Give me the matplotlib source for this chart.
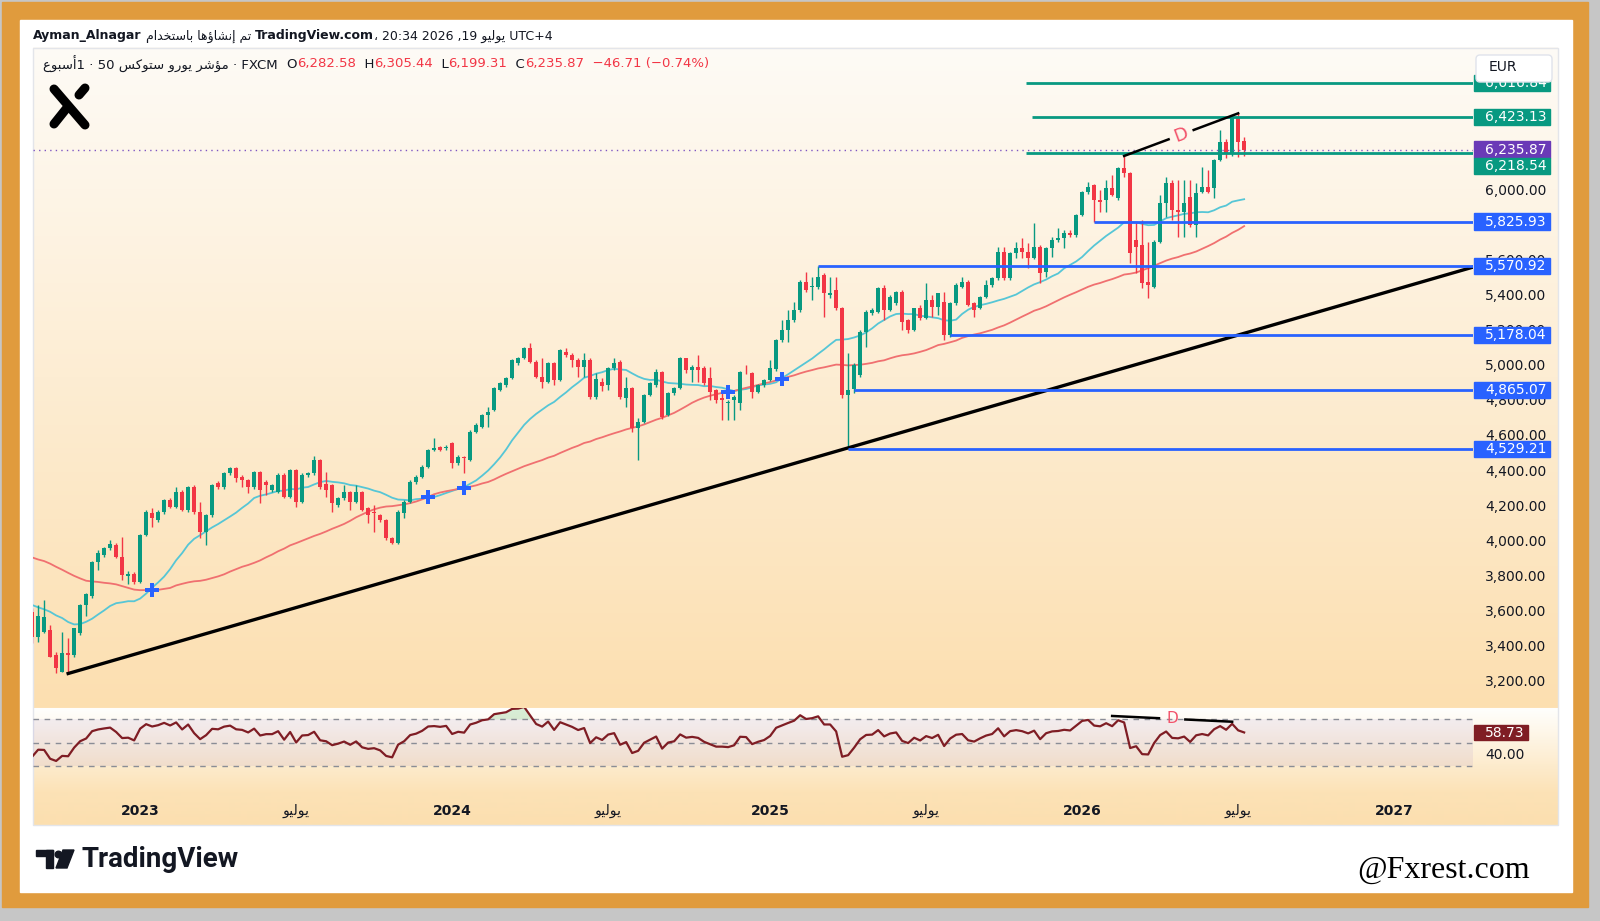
import numpy as np
import pandas as pd
import matplotlib
matplotlib.use("Agg")
import matplotlib.pyplot as plt
import matplotlib.dates as mdates
import matplotlib.transforms as mtransforms
from matplotlib.patches import Rectangle, FancyBboxPatch, Polygon, Circle

# # # # # # # # # # # # #    DATA    # # # # # # # # # # # # #

# weekly candles, first one is the week of 2022-08-29
first_week = "2022-08-29"
week_open = [
    3600, 3455, 3487, 3497, 3354, 3259, 3363, 3354, 3478, 3640,
    3690, 3886, 3925, 3962, 3981, 3915, 3805, 3815, 3772, 4038,
    4165, 4124, 4171, 4238, 4200, 4285, 4181, 4314, 4171, 4057,
    4152, 4333, 4314, 4390, 4418, 4371, 4352, 4314, 4399, 4342,
    4295, 4285, 4380, 4257, 4409, 4228, 4380, 4390, 4466, 4330,
    4323, 4209, 4247, 4285, 4228, 4285, 4190, 4171, 4152, 4124,
    4019, 3991, 4162, 4228, 4342, 4371, 4428, 4523, 4538, 4532,
    4561, 4447, 4485, 4466, 4627, 4656, 4722, 4751, 4865, 4894,
    4932, 5017, 5046, 5103, 5027, 4941, 4913, 5017, 4922, 5084,
    5065, 5036, 4998, 5036, 4827, 4913, 4894, 4989, 5027, 4818,
    4875, 4647, 4685, 4837, 4894, 4970, 4722, 4846, 4875, 5046,
    4979, 4998, 4989, 4932, 4865, 4818, 4789, 4808, 4789, 4970,
    4960, 4856, 4894, 4922, 4985, 5150, 5207, 5264, 5321, 5483,
    5454, 5454, 5521, 5406, 5435, 5331, 4837, 4870, 4951, 5198,
    5302, 5312, 5445, 5321, 5359, 5426, 5264, 5207, 5331, 5274,
    5378, 5340, 5369, 5178.04, 5359, 5454, 5483, 5359, 5331, 5397,
    5464, 5502, 5654, 5502, 5644, 5673, 5654, 5616, 5682, 5540,
    5673, 5720, 5730, 5759, 5749, 5863, 5996, 6034, 5949, 5949,
    6015, 5958, 6129, 6101, 5720, 5692, 5483, 5454, 5711, 5930,
    6044, 5892, 5882, 5968, 5806, 5996, 6025, 6015, 6177, 6281,
    6210, 6414, 6282.58,
]
week_high = [
    3620, 3640, 3668, 3525, 3370, 3487, 3449, 3510, 3645, 3710,
    3890, 3953, 3970, 4010, 3995, 4029, 3830, 3825, 4045, 4180,
    4190, 4180, 4245, 4250, 4314, 4295, 4320, 4325, 4228, 4160,
    4330, 4345, 4395, 4425, 4425, 4380, 4360, 4405, 4405, 4350,
    4330, 4390, 4390, 4415, 4415, 4390, 4400, 4490, 4470, 4400,
    4330, 4255, 4323, 4290, 4323, 4290, 4200, 4209, 4160, 4130,
    4025, 4180, 4235, 4350, 4380, 4435, 4530, 4589, 4545, 4550,
    4570, 4495, 4490, 4635, 4675, 4730, 4770, 4880, 4910, 4940,
    5040, 5055, 5110, 5135, 5035, 5046, 5025, 5025, 5100, 5103,
    5075, 5045, 5074, 5045, 4960, 4935, 4995, 5046, 5035, 4941,
    4885, 4703, 4845, 4910, 4985, 4975, 4855, 4885, 5055, 5050,
    5010, 5065, 5000, 4998, 4870, 4865, 4810, 4835, 4975, 5008,
    4965, 4900, 4930, 5036, 5155, 5264, 5321, 5369, 5490, 5540,
    5512, 5570.92, 5530, 5511, 5511, 5340, 5074, 5020, 5205, 5320,
    5335, 5450, 5464, 5405, 5430, 5435, 5270, 5335, 5350, 5473,
    5407, 5420, 5426, 5365, 5473, 5511, 5490, 5365, 5400, 5492,
    5511, 5682, 5682, 5650, 5711, 5730, 5701, 5815, 5690, 5680,
    5740, 5787, 5778, 5778, 5870, 6000, 6053, 6040, 6006, 6063,
    6091, 6139, 6200, 6110, 5825, 5835, 5711, 5720, 5977, 6082,
    6063, 6063, 6063, 6063, 6044, 6139, 6120, 6185, 6347, 6295,
    6423.13, 6443, 6305.44,
]
week_low = [
    3420, 3430, 3480, 3340, 3250, 3255, 3248, 3340, 3468, 3575,
    3680, 3838, 3910, 3950, 3905, 3782, 3760, 3760, 3765, 4030,
    4086, 4110, 4160, 4190, 4190, 4175, 4170, 4160, 4019, 3981,
    4140, 4300, 4300, 4380, 4340, 4314, 4276, 4300, 4219, 4266,
    4285, 4280, 4250, 4250, 4200, 4220, 4370, 4380, 4300, 4257,
    4171, 4200, 4240, 4181, 4220, 4175, 4105, 4057, 4110, 4010,
    3985, 3985, 4133, 4220, 4330, 4365, 4420, 4515, 4515, 4520,
    4418, 4440, 4390, 4460, 4620, 4650, 4656, 4745, 4860, 4885,
    4925, 5010, 5040, 5020, 4935, 4875, 4905, 4894, 4915, 5055,
    4998, 4941, 4941, 4812, 4815, 4860, 4865, 4980, 4815, 4770,
    4627, 4466, 4675, 4830, 4885, 4700, 4715, 4835, 4870, 4960,
    4913, 4913, 4895, 4808, 4789, 4694, 4694, 4694, 4751, 4955,
    4818, 4850, 4885, 4915, 4975, 5140, 5140, 5255, 5312, 5426,
    5378, 5440, 5283, 5388, 5320, 4820, 4529.21, 4850, 4940, 5112,
    5290, 5305, 5264, 5315, 5350, 5207, 5188, 5200, 5265, 5268,
    5283, 5293, 5150, 5170, 5350, 5445, 5345, 5283, 5325, 5390,
    5455, 5495, 5492, 5495, 5616, 5616, 5559, 5610, 5473, 5511,
    5625, 5712, 5673, 5740, 5740, 5855, 5985, 5825.93, 5882, 5882,
    5970, 5949, 6082, 5587, 5530, 5445, 5388, 5445, 5705, 5854,
    5835, 5740, 5740, 5797, 5740, 5987, 5987, 5958, 6170, 6190,
    6200, 6192, 6199.31,
]
week_close = [
    3455, 3577, 3572, 3345, 3278, 3363, 3354, 3506, 3639, 3700,
    3886, 3934, 3962, 3985, 3915, 3810, 3818, 3772, 4038, 4171,
    4133, 4171, 4238, 4200, 4285, 4181, 4314, 4171, 4057, 4152,
    4323, 4314, 4390, 4418, 4361, 4352, 4314, 4399, 4295, 4323,
    4323, 4380, 4257, 4409, 4228, 4380, 4390, 4466, 4314, 4295,
    4219, 4247, 4285, 4228, 4285, 4181, 4152, 4162, 4124, 4019,
    3991, 4171, 4228, 4342, 4371, 4428, 4523, 4532, 4523, 4542,
    4447, 4485, 4475, 4627, 4665, 4722, 4742, 4875, 4903, 4932,
    5036, 5046, 5103, 5027, 4941, 4913, 5017, 4922, 5093, 5065,
    5036, 4998, 5036, 4827, 4930, 4888, 4989, 5017, 4827, 4875,
    4647, 4685, 4837, 4903, 4970, 4713, 4846, 4875, 5046, 4979,
    4998, 4979, 4903, 4856, 4808, 4808, 4799, 4827, 4970, 4965,
    4856, 4894, 4922, 4989, 5150, 5207, 5264, 5321, 5480, 5435,
    5458, 5511, 5416, 5416, 5331, 4837, 4865.07, 5008, 5198, 5312,
    5321, 5445, 5321, 5397, 5426, 5255, 5207, 5331, 5274, 5378,
    5340, 5416, 5178.04, 5359, 5464, 5483, 5350, 5321, 5397, 5464,
    5502, 5654, 5502, 5644, 5673, 5654, 5616, 5682, 5530, 5673,
    5720, 5730, 5759, 5749, 5863, 5996, 6025, 5949, 5939, 6015,
    5977, 6129, 6101, 5644, 5682, 5473, 5464, 5711, 5930, 6044,
    5892, 5882, 5930, 5806, 5987, 6025, 5996, 6177, 6281, 6210,
    6414, 6281, 6235.87,
]
# closes before the visible window, only used to warm up the averages / RSI
history_close = [
    4170, 4130, 4160, 4030, 4080, 4180, 4190, 4250, 4360, 4370,
    4360, 4090, 4080, 4200, 4160, 4190, 4300, 4320, 4270, 4200,
    4140, 4110, 4130, 3970, 3930, 3560, 3730, 3900, 3870, 3920,
    3830, 3850, 3840, 3800, 3630, 3690, 3660, 3810, 3780, 3600,
    3440, 3530, 3450, 3500, 3480, 3600, 3710, 3690, 3780, 3730,
    3600,
]

# drawings on the chart
green_levels = [6616.84, 6423.13, 6218.54]
green_starts = ["2025-10-31", "2025-11-08", "2025-10-31"]
blue_levels = [5825.93, 5570.92, 5178.04, 4865.07, 4529.21]
blue_starts = ["2026-01-19", "2025-03-03", "2025-08-04", "2025-04-14", "2025-04-07"]
last_price = 6235.87
trend_points = [("2022-10-10", 3248), ("2027-04-06", 5566)]
price_div = [("2026-02-23", 6200), ("2026-07-06", 6443)]
rsi_div = [("2026-02-09", 72.9), ("2026-06-29", 68.0)]
cross_weeks = ["2023-01-16", "2023-12-04", "2024-01-15", "2024-11-18", "2025-01-20"]
rsi_last = 58.73

# 5,800 / 6,200 / 6,400 / 6,600 sit fully under the level tags, so they are not shown
price_ticks = [3200, 3400, 3600, 3800, 4000, 4200, 4400, 4600, 4800, 5000, 5200, 5400, 5600, 6000]
time_ticks = ["2023-01-02", "2023-07-03", "2024-01-01", "2024-07-01", "2025-01-06",
              "2025-07-07", "2026-01-05", "2026-07-06", "2027-01-04"]
time_labels = ["2023", "يوليو", "2024", "يوليو", "2025", "يوليو", "2026", "يوليو", "2027"]

# # # # # # # # # # # #   ARABIC TEXT HELPER   # # # # # # # # # # # #
# matplotlib does no shaping, so pick the joined glyph forms and reverse
AR_FORMS = {
    "ا": ("\uFE8D", "\uFE8E", None, None), "أ": ("\uFE83", "\uFE84", None, None),
    "إ": ("\uFE87", "\uFE88", None, None), "ؤ": ("\uFE85", "\uFE86", None, None),
    "د": ("\uFEA9", "\uFEAA", None, None), "ر": ("\uFEAD", "\uFEAE", None, None),
    "و": ("\uFEED", "\uFEEE", None, None),
    "ب": ("\uFE8F", "\uFE90", "\uFE91", "\uFE92"), "ت": ("\uFE95", "\uFE96", "\uFE97", "\uFE98"),
    "خ": ("\uFEA5", "\uFEA6", "\uFEA7", "\uFEA8"), "س": ("\uFEB1", "\uFEB2", "\uFEB3", "\uFEB4"),
    "ش": ("\uFEB5", "\uFEB6", "\uFEB7", "\uFEB8"), "ع": ("\uFEC9", "\uFECA", "\uFECB", "\uFECC"),
    "ك": ("\uFED9", "\uFEDA", "\uFEDB", "\uFEDC"), "ل": ("\uFEDD", "\uFEDE", "\uFEDF", "\uFEE0"),
    "م": ("\uFEE1", "\uFEE2", "\uFEE3", "\uFEE4"), "ن": ("\uFEE5", "\uFEE6", "\uFEE7", "\uFEE8"),
    "ه": ("\uFEE9", "\uFEEA", "\uFEEB", "\uFEEC"), "ي": ("\uFEF1", "\uFEF2", "\uFEF3", "\uFEF4"),
}


def ar(text):
    out = []
    for i, ch in enumerate(text):
        if ch not in AR_FORMS:
            out.append(ch)
            continue
        isol, fin, ini, med = AR_FORMS[ch]
        prev = text[i - 1] if i > 0 else ""
        nxt = text[i + 1] if i + 1 < len(text) else ""
        join_prev = prev in AR_FORMS and AR_FORMS[prev][2] is not None
        join_next = ini is not None and nxt in AR_FORMS
        if join_prev and join_next:
            out.append(med)
        elif join_prev:
            out.append(fin)
        elif join_next:
            out.append(ini)
        else:
            out.append(isol)
    return "".join(reversed(out))


# # # # # # # # # # # #   INDICATORS   # # # # # # # # # # # #
dates = pd.date_range(first_week, periods=len(week_close), freq="W-MON")
hist_dates = pd.date_range(end=dates[0] - pd.Timedelta(days=7), periods=len(history_close), freq="W-MON")
all_close = pd.Series(history_close + week_close, index=hist_dates.append(dates))
sma20 = all_close.rolling(20).mean()
sma50 = all_close.rolling(50).mean()
delta = all_close.diff()
gain = delta.clip(lower=0).ewm(alpha=1 / 14, adjust=False).mean()
loss = (-delta.clip(upper=0)).ewm(alpha=1 / 14, adjust=False).mean()
rsi = 100 - 100 / (1 + gain / loss)

xd = mdates.date2num(dates)
xall = mdates.date2num(all_close.index)
o = np.array(week_open)
h = np.array(week_high)
l = np.array(week_low)
c = np.array(week_close)
up = c >= o

# # # # # # # # # # # #   FIGURE   # # # # # # # # # # # #
W, H = 1600, 921
GREEN, RED, BLUE, TXT = "#089981", "#F23645", "#2962FF", "#131722"
plt.rcParams["font.family"] = ["DejaVu Sans"]

fig = plt.figure(figsize=(16, 9.21), dpi=100, facecolor="white")


def rect(x0, y0, x1, y1):
    return [x0 / W, 1 - y1 / H, (x1 - x0) / W, (y1 - y0) / H]


bg = fig.add_axes([0, 0, 1, 1])
bg.axis("off")
bg.add_patch(Rectangle((0, 0), W, H, color="#C6C6C6"))
bg.add_patch(Rectangle((2, 2), 1586, 905, color="#E09B3D"))
bg.add_patch(Rectangle((20, 20), 1552, 872, color="white"))
stops_y = [48, 707, 708, 792, 825]
stops_c = [(254, 251, 246), (252, 223, 176), (255, 255, 253), (252, 226, 182), (252, 223, 175)]
ys = np.arange(48, 825)
grad = np.stack([np.interp(ys, stops_y, [s[k] for s in stops_c]) for k in range(3)], axis=-1) / 255
bg.imshow(grad[:, None, :], extent=(33, 1558, 825, 48), aspect="auto", zorder=2)
bg.add_patch(Rectangle((33, 48), 1525, 777, fill=False, ec="#E3E5EA", lw=1, zorder=3))
bg.set_xlim(0, W)
bg.set_ylim(H, 0)

x_left = mdates.date2num(pd.Timestamp("2022-08-30"))
x_right = mdates.date2num(pd.Timestamp("2027-04-06"))

# ---- price pane ----
ax = fig.add_axes(rect(33, 49, 1473, 707))
ax.patch.set_alpha(0)
for s in ax.spines.values():
    s.set_visible(False)
ax.set_xticks([])
ax.set_yticks([])
ax.set_xlim(x_left, x_right)
ax.set_ylim(3057, 6810)

ax.vlines(xd, l, h, colors=np.where(up, GREEN, RED), lw=1, zorder=3)
ax.bar(xd, np.maximum(np.abs(c - o), 4), bottom=np.minimum(o, c), width=4.4,
       color=np.where(up, GREEN, RED), lw=0, zorder=4)

ax.plot(xall, sma20.values, color="#56C6D6", lw=1.3, zorder=2)
ax.plot(xall, sma50.values, color="#F07070", lw=1.3, zorder=2)

cx = mdates.date2num(pd.to_datetime(cross_weeks))
ax.plot(cx, sma50.loc[pd.to_datetime(cross_weeks)].values, "P", color=BLUE, ms=10, mew=0, zorder=6)

ax.plot(mdates.date2num(pd.to_datetime([p[0] for p in trend_points])), [p[1] for p in trend_points],
        color="black", lw=2.4, zorder=5)

for lvl, st in zip(green_levels, green_starts):
    ax.hlines(lvl, mdates.date2num(pd.Timestamp(st)), x_right, color=GREEN, lw=2, zorder=5)
for lvl, st in zip(blue_levels, blue_starts):
    ax.hlines(lvl, mdates.date2num(pd.Timestamp(st)), x_right, color=BLUE, lw=2, zorder=5)
ax.hlines(last_price, x_left, x_right, color="#7E57C2", lw=1, linestyles=(0, (1, 3)), zorder=5)


def divergence(axis, pts, size, rotate):
    x0, y0 = mdates.date2num(pd.Timestamp(pts[0][0])), pts[0][1]
    x1, y1 = mdates.date2num(pd.Timestamp(pts[1][0])), pts[1][1]
    for a, b in [(0, 0.39), (0.61, 1)]:
        axis.plot([x0 + a * (x1 - x0), x0 + b * (x1 - x0)], [y0 + a * (y1 - y0), y0 + b * (y1 - y0)],
                  color="black", lw=1.8, zorder=6)
    p0 = axis.transData.transform((x0, y0))
    p1 = axis.transData.transform((x1, y1))
    ang = np.degrees(np.arctan2(p1[1] - p0[1], p1[0] - p0[0])) if rotate else 0
    axis.text((x0 + x1) / 2, (y0 + y1) / 2, "D", color="#F2536A", fontsize=size, rotation=ang,
              rotation_mode="anchor", ha="center", va="center", zorder=7)


divergence(ax, price_div, 13, True)

# price scale
ytr = mtransforms.blended_transform_factory(ax.transAxes, ax.transData)
for t in price_ticks:
    ax.text(1.0083, t, f"{t:,.2f}", transform=ytr, fontsize=10, color=TXT,
            va="center", ha="left", clip_on=False, zorder=3)

units_per_px = (6810 - 3057) / ax.get_window_extent().height
box_h = 16.5 * units_per_px
labels = [(v, GREEN) for v in green_levels] + [(v, BLUE) for v in blue_levels] + [(last_price, "#6A3AB7")]
labels.sort(key=lambda t: -t[0])
prev = None
for v, col in labels:
    pos = v if prev is None or prev - v >= box_h else prev - box_h
    prev = pos
    ax.add_patch(Rectangle((1.001, pos - box_h / 2), 0.0525, box_h, transform=ytr, color=col,
                           clip_on=False, zorder=8))
    ax.text(1.0083, pos, f"{v:,.2f}", transform=ytr, fontsize=10, color="white",
            va="center", ha="left", clip_on=False, zorder=9)

# ---- RSI pane ----
ar_ax = fig.add_axes(rect(33, 708, 1473, 797))
ar_ax.patch.set_alpha(0)
for s in ar_ax.spines.values():
    s.set_visible(False)
ar_ax.set_xticks([])
ar_ax.set_yticks([])
ar_ax.set_xlim(x_left, x_right)
ar_ax.set_ylim(3.8, 79.7)
ar_ax.axhspan(30, 70, color="#7E57C2", alpha=0.09, lw=0)
for lv in (70, 50, 30):
    ar_ax.axhline(lv, color="#8A8D96", lw=1, ls=(0, (4, 4)))
rv = rsi.values
ar_ax.fill_between(xall, 70, rv, where=rv > 70, interpolate=True, color="#66BB6A", alpha=0.25, lw=0)
ar_ax.plot(xall, rv, color="#7F1D24", lw=1.6, zorder=4)
divergence(ar_ax, rsi_div, 11, False)

rtr = mtransforms.blended_transform_factory(ar_ax.transAxes, ar_ax.transData)
rpx = 76 / ar_ax.get_window_extent().height
ar_ax.add_patch(Rectangle((1.001, rsi_last - 7.8 * rpx), 0.0375, 15.6 * rpx, transform=rtr,
                          color="#7F1D24", clip_on=False, zorder=8))
ar_ax.text(1.0083, rsi_last, f"{rsi_last:.2f}", transform=rtr, fontsize=10, color="white",
           va="center", ha="left", clip_on=False, zorder=9)
ar_ax.text(1.0083, 40, "40.00", transform=rtr, fontsize=10, color=TXT, va="center", ha="left",
           clip_on=False)

# ---- overlay: texts, logos ----
fg = fig.add_axes([0, 0, 1, 1])
fg.patch.set_alpha(0)
fg.axis("off")
fg.set_xlim(0, W)
fg.set_ylim(H, 0)

ttr = mtransforms.blended_transform_factory(ar_ax.transData, fg.transData)
for d, lab in zip(time_ticks, time_labels):
    is_year = lab.isdigit()
    fg.text(mdates.date2num(pd.Timestamp(d)), 811, lab if is_year else ar(lab), transform=ttr,
            fontsize=10, color=TXT, fontweight="bold" if is_year else "normal", ha="center", va="center")

fg.add_patch(FancyBboxPatch((1476, 55), 76, 27, boxstyle="round,pad=0,rounding_size=4",
                            fc="white", ec="#E0E3EB", lw=1, zorder=5))
fg.text(1489, 67, "EUR", fontsize=10, color=TXT, va="center", ha="left", zorder=6)

renderer = fig.canvas.get_renderer()


def text_row(x, y, pieces, size):
    for s, col, wt in pieces:
        t = fg.text(x, y, s, fontsize=size, color=col, fontweight=wt, va="center", ha="left")
        x += t.get_window_extent(renderer=renderer).width


text_row(33, 36, [
    ("Ayman_Alnagar", TXT, "bold"),
    (" " + ar("تم إنشاؤها باستخدام") + " ", TXT, "normal"),
    ("TradingView.com", TXT, "bold"),
    ("، 20:34 2026 ,19 " + ar("يوليو") + " UTC+4", TXT, "normal"),
], 9)

text_row(43, 64, [
    (ar("أسبوع") + "1 · 50 " + ar("مؤشر يورو ستوكس") + " · FXCM  ", TXT, "normal"),
    ("O", TXT, "normal"), ("6,282.58", RED, "normal"),
    ("  H", TXT, "normal"), ("6,305.44", RED, "normal"),
    ("  L", TXT, "normal"), ("6,199.31", RED, "normal"),
    ("  C", TXT, "normal"), ("6,235.87", RED, "normal"),
    ("  −46.71 (−0.74%)", RED, "normal"),
], 9.5)

# X logo in the top left corner
for (xa, ya), (xb, yb) in [((54, 89), (85, 125)), ((66, 109), (54, 124)), ((85, 88), (79, 95))]:
    fg.plot([xa, xb], [ya, yb], color="black", lw=6.5, solid_capstyle="round")

# TradingView mark at the bottom
fg.add_patch(Rectangle((36, 850), 17, 6, color=TXT))
fg.add_patch(Rectangle((46, 850), 7, 18, color=TXT))
fg.add_patch(Circle((58.5, 854.5), 3.3, color=TXT))
fg.add_patch(Polygon([(63, 850), (74, 850), (67, 868), (56, 868)], color=TXT))
fg.text(81, 859, "TradingView", fontsize=20, fontweight="bold", color=TXT, va="center",
        ha="left", family=["Roboto", "DejaVu Sans"])
fg.text(1530, 870, "@Fxrest.com", fontsize=23, color="black", va="center", ha="right",
        family=["Liberation Serif", "DejaVu Serif"])

fig.savefig("out.png", dpi=100, facecolor=fig.get_facecolor())
